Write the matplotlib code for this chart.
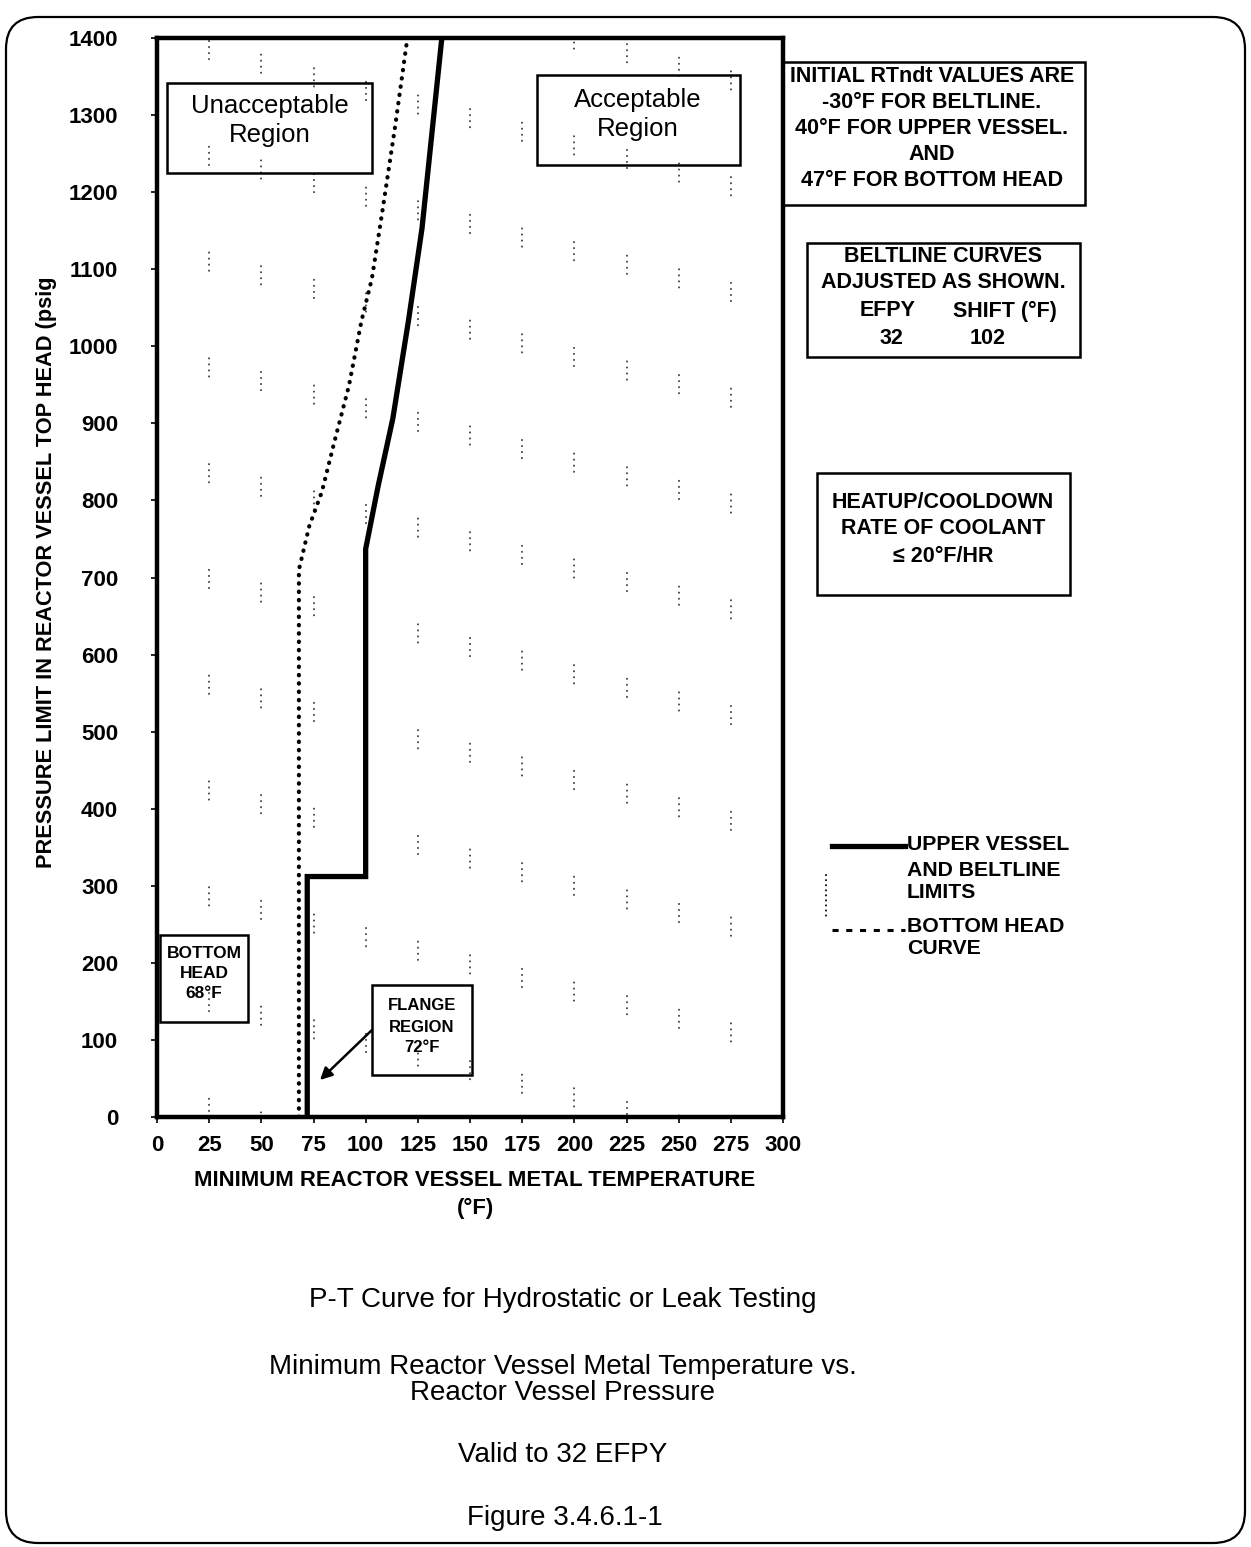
import numpy as np
import matplotlib
matplotlib.use("Agg")
import matplotlib.pyplot as plt
from matplotlib.patches import Rectangle, FancyBboxPatch, FancyArrowPatch
from matplotlib.lines import Line2D

plt.rcParams['font.family'] = ['Liberation Sans', 'DejaVu Sans']

# upper vessel / beltline limits (solid)
limit_temp = [72, 72, 100, 100, 106, 113, 120.5, 127, 132, 136.5]
limit_psig = [0, 312, 312, 737, 819, 906, 1033, 1153, 1283, 1400]

# bottom head curve (dotted)
bh_temp = [68, 68, 73, 79, 85, 92, 98, 103, 108, 114, 120]
bh_psig = [0, 710, 767, 811, 876, 949, 1033, 1088, 1175, 1283, 1400]

x_ticks = list(range(0, 301, 25))
y_ticks = list(range(0, 1401, 100))

W, H = 1251, 1547
fig = plt.figure(figsize=(W / 100, H / 100), dpi=100)
T = fig.dpi_scale_trans


def px(x, y):
    # pixel (from top-left) -> inches
    return x / 100, (H - y) / 100


def box(x0, y0, x1, y1, lw=1.8):
    a = px(x0, y1)
    fig.patches.append(Rectangle(a, (x1 - x0) / 100, (y1 - y0) / 100, transform=T,
                                 fill=False, lw=lw, ec='black'))


def txt(x, y, s, size, weight='bold', **kw):
    fig.text(*px(x, y), s, transform=T, fontsize=size, fontweight=weight,
             ha=kw.pop('ha', 'center'), va=kw.pop('va', 'center'), **kw)


# page border
fig.patches.append(FancyBboxPatch(px(6, 1543), 12.39, 15.26, transform=T,
                                  boxstyle="round,pad=0,rounding_size=0.32",
                                  fill=False, lw=1.6, ec='black'))

ax = fig.add_axes([157 / W, 1 - 1117 / H, (783 - 157) / W, (1117 - 38) / H])
ax.set_xlim(0, 300)
ax.set_ylim(0, 1400)
ax.set_xticks(x_ticks)
ax.set_yticks(y_ticks)
ax.tick_params(labelsize=16, length=4, width=1.2, direction='out')
ax.tick_params(axis='y', pad=24)
ax.tick_params(axis='x', pad=9)
for lab in ax.get_xticklabels() + ax.get_yticklabels():
    lab.set_fontweight('bold')
for sp in ax.spines.values():
    sp.set_linewidth(3.2)

# broken scan grid
for i, gx in enumerate(x_ticks[1:-1]):
    ax.axvline(gx, color='black', lw=1.4, alpha=0.75, dash_capstyle='round',
               linestyle=(i * 7.0, (0.1, 3, 0.1, 3, 0.1, 3, 0.1, 45)))

ax.plot(bh_temp, bh_psig, color='black', lw=3.0, dash_capstyle='round',
        linestyle=(0, (0.1, 1.9)))
ax.plot(limit_temp, limit_psig, color='black', lw=3.8, solid_joinstyle='miter')

# axis titles
txt(47, 572, 'PRESSURE LIMIT IN REACTOR VESSEL TOP HEAD (psig', 15.7, rotation=90)
txt(475, 1180, 'MINIMUM REACTOR VESSEL METAL TEMPERATURE', 15.9)
txt(475, 1208, '(°F)', 15.9)

# region boxes
box(167, 83, 372, 173)
txt(270, 106, 'Unacceptable', 18.5, weight='normal')
txt(270, 135, 'Region', 18.5, weight='normal')
box(537, 75, 740, 165)
txt(638, 100, 'Acceptable', 18.5, weight='normal')
txt(638, 129, 'Region', 18.5, weight='normal')

box(160, 935, 248, 1022)
for yy, s in zip([953, 973, 993], ['BOTTOM', 'HEAD', '68°F']):
    txt(204, yy, s, 12.5)
box(372, 985, 472, 1075)
for yy, s in zip([1005, 1027, 1048], ['FLANGE', 'REGION', '72°F']):
    txt(422, yy, s, 12)
fig.patches.append(FancyArrowPatch(px(372, 1030), px(320, 1080), transform=T,
                                   arrowstyle='-|>', mutation_scale=18, lw=1.8,
                                   color='black', shrinkA=0, shrinkB=0))

# notes on the right
box(782, 62, 1085, 205)
for yy, s in zip([76, 102, 129, 155, 180],
                 ['INITIAL RTndt VALUES ARE', '-30°F FOR BELTLINE.',
                  '40°F FOR UPPER VESSEL.', 'AND', '47°F FOR BOTTOM HEAD']):
    txt(932, yy, s, 15.5)
box(807, 243, 1080, 357)
for yy, s in zip([257, 283], ['BELTLINE CURVES', 'ADJUSTED AS SHOWN.']):
    txt(943, yy, s, 15.5)
txt(888, 311, 'EFPY', 15.5)
txt(1005, 311, 'SHIFT (°F)', 15.5)
txt(891, 338, '32', 15.5)
txt(988, 338, '102', 15.5)
box(817, 473, 1070, 595)
for yy, s in zip([503, 529, 556], ['HEATUP/COOLDOWN', 'RATE OF COOLANT', '≤ 20°F/HR']):
    txt(943, yy, s, 15.5)

# legend
fig.lines.append(Line2D([832 / 100, 905 / 100], [(H - 846) / 100] * 2, transform=T,
                        color='black', lw=3.8))
fig.lines.append(Line2D([832 / 100, 905 / 100], [(H - 930) / 100] * 2, transform=T,
                        color='black', lw=2.2, linestyle=(0, (2, 2.5))))
fig.lines.append(Line2D([826 / 100, 826 / 100], [(H - 875) / 100, (H - 918) / 100],
                        transform=T, color='black', lw=1.4, dash_capstyle='round',
                        linestyle=(0, (0.1, 2.5))))
for yy, s in zip([845, 870, 892], ['UPPER VESSEL', 'AND BELTLINE', 'LIMITS']):
    txt(907, yy, s, 15.3, ha='left')
for yy, s in zip([927, 949], ['BOTTOM HEAD', 'CURVE']):
    txt(907, yy, s, 15.3, ha='left')

# captions
txt(563, 1300, 'P-T Curve for Hydrostatic or Leak Testing', 20, weight='normal')
txt(563, 1367, 'Minimum Reactor Vessel Metal Temperature vs.', 20, weight='normal')
txt(563, 1393, 'Reactor Vessel Pressure', 20, weight='normal')
txt(563, 1455, 'Valid to 32 EFPY', 20, weight='normal')
txt(565, 1518, 'Figure 3.4.6.1-1', 20, weight='normal')

fig.savefig('out.png', dpi=100)
